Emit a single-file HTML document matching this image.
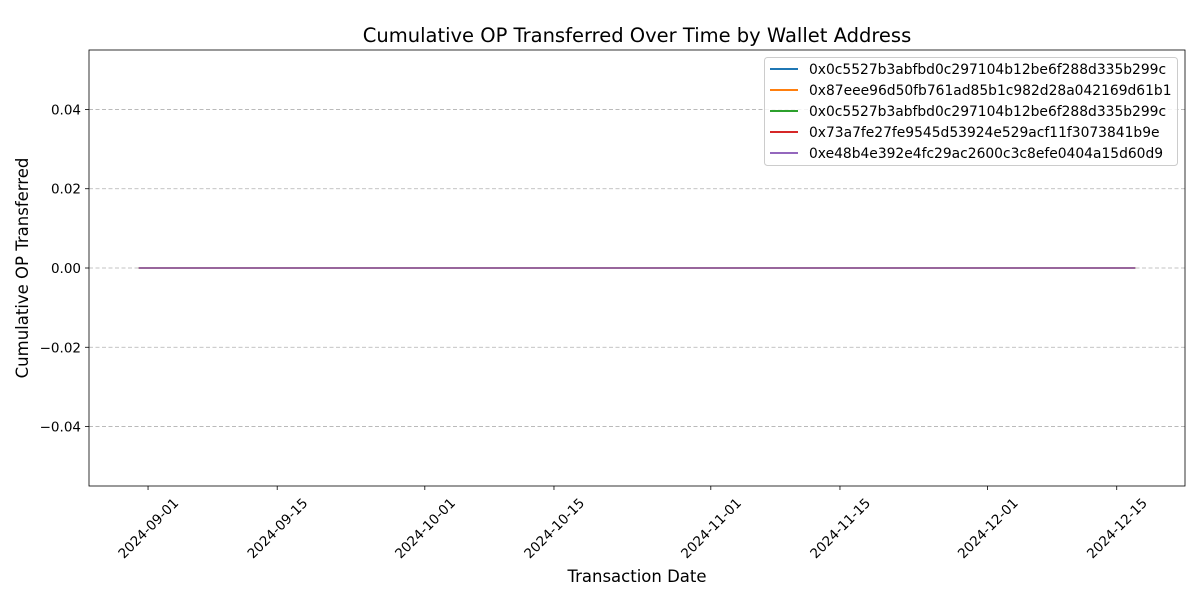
<!DOCTYPE html>
<html><head><meta charset="utf-8"><style>
html,body{margin:0;padding:0;background:#fff;}
svg{display:block;font-family:"DejaVu Sans","Liberation Sans",sans-serif;}
</style></head><body>
<svg id="chart" width="1200" height="600" viewBox="0 0 1200 600"></svg>
<script>
const seriesNames = ["0x0c5527b3abfbd0c297104b12be6f288d335b299c","0x87eee96d50fb761ad85b1c982d28a042169d61b1","0x0c5527b3abfbd0c297104b12be6f288d335b299c","0x73a7fe27fe9545d53924e529acf11f3073841b9e","0xe48b4e392e4fc29ac2600c3c8efe0404a15d60d9"];
const seriesColors = ["#1f77b4","#ff7f0e","#2ca02c","#d62728","#9467bd"];
const seriesDates = ["2024-08-31","2024-12-17"];
const seriesValues = [[0,0],[0,0],[0,0],[0,0],[0,0]];
const xTickLabels = ["2024-09-01","2024-09-15","2024-10-01","2024-10-15","2024-11-01","2024-11-15","2024-12-01","2024-12-15"];
const yTicks = [-0.04,-0.02,0,0.02,0.04];
const yTickLabels = ["\u22120.04","\u22120.02","0.00","0.02","0.04"];

const NS="http://www.w3.org/2000/svg";
const svg=document.getElementById('chart');
const L=89,R=1185,T=50,B=486;
const day=d=>Date.parse(d+"T00:00:00Z")/86400000;
const d0=day("2024-08-31"),d1=day("2024-12-17"),pad=(d1-d0)*0.05;
const xMin=d0-pad,xMax=d1+pad;
const x=d=>L+(day(d)-xMin)/(xMax-xMin)*(R-L);
const yMin=-0.055,yMax=0.055;
const y=v=>B-(v-yMin)/(yMax-yMin)*(B-T);
function el(t,a,p){const e=document.createElementNS(NS,t);for(const k in a)e.setAttribute(k,a[k]);(p||svg).appendChild(e);return e;}

yTicks.forEach((v,i)=>{
  const g=el('line',{x1:L,x2:R,y1:y(v),y2:y(v),stroke:'#b0b0b0','stroke-width':0.8,'stroke-dasharray':'4,2.5'});
  
  
  el('line',{x1:L-4,x2:L,y1:y(v),y2:y(v),stroke:'#000','stroke-width':0.8});
  const t=el('text',{x:L-8,y:y(v)+5,'text-anchor':'end','font-size':13.5});
  t.textContent=yTickLabels[i];
  
  
});
xTickLabels.forEach(d=>{
  const px=x(d);
  el('line',{x1:px,x2:px,y1:B,y2:B+4,stroke:'#000','stroke-width':0.8});
  const cx=px, cy=B+42;
  const t=el('text',{x:cx,y:cy+5,'text-anchor':'middle','font-size':13.5,transform:`rotate(-45 ${cx} ${cy})`});
  t.textContent=d;
  
  
});
seriesValues.forEach((vals,i)=>{
  const pts=vals.map((v,j)=>x(seriesDates[j])+','+y(v)).join(' ');
  const p=el('polyline',{points:pts,fill:'none',stroke:seriesColors[i],'stroke-width':1.5});
  
  
});
const frame=el('rect',{x:L,y:T,width:R-L,height:B-T,fill:'none',stroke:'#000','stroke-width':0.8});



const title=el('text',{x:(L+R)/2,y:42,'text-anchor':'middle','font-size':19.5});
title.textContent="Cumulative OP Transferred Over Time by Wallet Address";


const xl=el('text',{x:(L+R)/2,y:582,'text-anchor':'middle','font-size':16.5});
xl.textContent="Transaction Date";


const yl=el('text',{x:28,y:(T+B)/2,'text-anchor':'middle','font-size':16.5,transform:`rotate(-90 28 ${(T+B)/2})`});
yl.textContent="Cumulative OP Transferred";



const lg=el('g',{});


el('rect',{x:764.5,y:57.5,width:413,height:108,rx:3,fill:'#fff','fill-opacity':0.85,stroke:'#ccc','stroke-width':1},lg);
seriesNames.forEach((n,i)=>{
  const yy=69+i*21;
  el('line',{x1:770,x2:798,y1:yy,y2:yy,stroke:seriesColors[i],'stroke-width':2},lg);
  const t=el('text',{x:809,y:yy+5,'font-size':13.85},lg);
  t.textContent=n;
  
  
});
</script>
</body></html>
